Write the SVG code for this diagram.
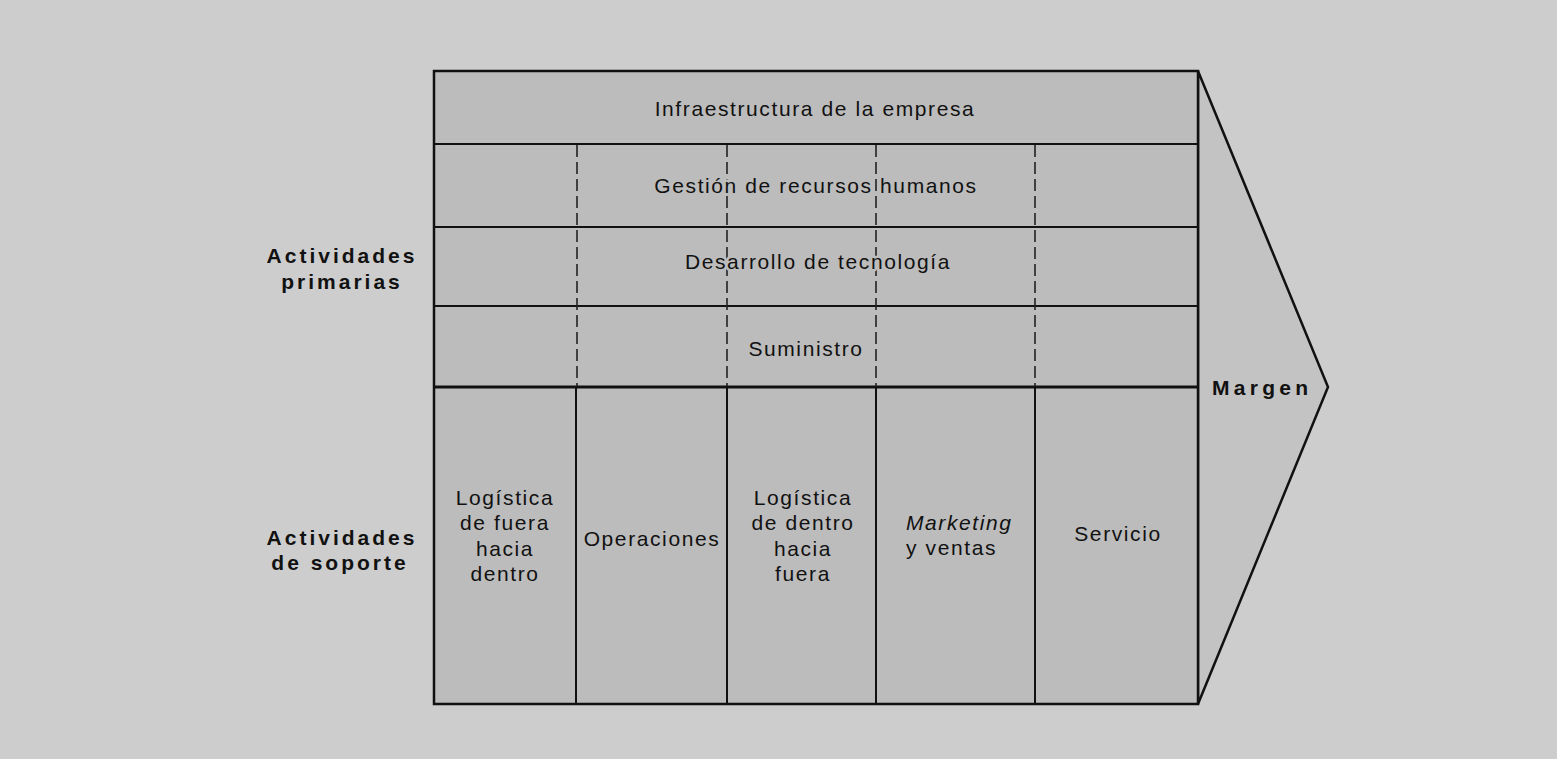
<svg xmlns="http://www.w3.org/2000/svg" width="1557" height="759" viewBox="0 0 1557 759">
<style>
.t{font-family:"Liberation Sans",Arial,sans-serif;font-size:21px;letter-spacing:1.6px;fill:#111}
.h{stroke:#bcbcbc;stroke-width:5px;paint-order:stroke;stroke-linejoin:round}
.b{font-family:"Liberation Sans",Arial,sans-serif;font-size:21px;font-weight:bold;letter-spacing:3px;fill:#111}
.c{text-anchor:middle}
.ln{stroke:#111;fill:none}
.dash{stroke:#222;stroke-width:1.6;stroke-dasharray:12 5;fill:none}
.cell{fill:#bcbcbc}
</style>
<rect x="0" y="0" width="1557" height="759" fill="#cdcdcd"/>
<g id="margen">
<polygon points="1198,71 1328,387 1198,704" fill="#c3c3c3" stroke="#111" stroke-width="2.5"/>
<text class="b" x="1212" y="395" style="letter-spacing:4.3px">Margen</text>
</g>
<g id="infraestructura"><rect class="cell" x="434" y="72" width="764" height="72"/></g>
<g id="recursos-humanos"><rect class="cell" x="434" y="144" width="764" height="83"/></g>
<g id="tecnologia"><rect class="cell" x="434" y="227" width="764" height="79"/></g>
<g id="suministro"><rect class="cell" x="434" y="306" width="764" height="81"/></g>
<g id="logistica-entrada"><rect class="cell" x="434" y="387" width="142" height="317"/>
<text class="t c" x="505" y="505">Logística</text><text class="t c" x="505" y="530">de fuera</text><text class="t c" x="505" y="556">hacia</text><text class="t c" x="505" y="581">dentro</text></g>
<g id="operaciones"><rect class="cell" x="576" y="387" width="151" height="317"/><text class="t c" x="652" y="546">Operaciones</text></g>
<g id="logistica-salida"><rect class="cell" x="727" y="387" width="149" height="317"/>
<text class="t c" x="803" y="505">Logística</text><text class="t c" x="803" y="530">de dentro</text><text class="t c" x="803" y="556">hacia</text><text class="t c" x="803" y="581">fuera</text></g>
<g id="marketing"><rect class="cell" x="876" y="387" width="159" height="317"/>
<text class="t" x="906" y="530" font-style="italic">Marketing</text><text class="t" x="906" y="555">y ventas</text></g>
<g id="servicio"><rect class="cell" x="1035" y="387" width="163" height="317"/><text class="t c" x="1118" y="541">Servicio</text></g>
<g id="labels">
<text class="b c" x="342" y="263">Actividades</text>
<text class="b c" x="342" y="289">primarias</text>
<text class="b c" x="342" y="545">Actividades</text>
<text class="b c" x="340" y="570">de soporte</text>
</g>
<g id="connectors">
<rect class="ln" x="434" y="71" width="764" height="633" stroke-width="2.5"/>
<line class="ln" x1="434" y1="144" x2="1198" y2="144" stroke-width="2"/>
<line class="ln" x1="434" y1="227" x2="1198" y2="227" stroke-width="2"/>
<line class="ln" x1="434" y1="306" x2="1198" y2="306" stroke-width="2"/>
<line class="ln" x1="434" y1="387" x2="1198" y2="387" stroke-width="3"/>
<line class="dash" x1="577" y1="145" x2="577" y2="386"/>
<line class="dash" x1="727" y1="145" x2="727" y2="386"/>
<line class="dash" x1="876" y1="145" x2="876" y2="386"/>
<line class="dash" x1="1035" y1="145" x2="1035" y2="386"/>
<line class="ln" x1="576" y1="387" x2="576" y2="704" stroke-width="2"/>
<line class="ln" x1="727" y1="387" x2="727" y2="704" stroke-width="2"/>
<line class="ln" x1="876" y1="387" x2="876" y2="704" stroke-width="2"/>
<line class="ln" x1="1035" y1="387" x2="1035" y2="704" stroke-width="2"/>
</g>
<g id="support-labels">
<text class="t c h" x="815" y="116">Infraestructura de la empresa</text>
<text class="t c h" x="816" y="193">Gestión de recursos humanos</text>
<text class="t c h" x="818" y="269">Desarrollo de tecnología</text>
<text class="t c h" x="806" y="356">Suministro</text>
</g>
</svg>
